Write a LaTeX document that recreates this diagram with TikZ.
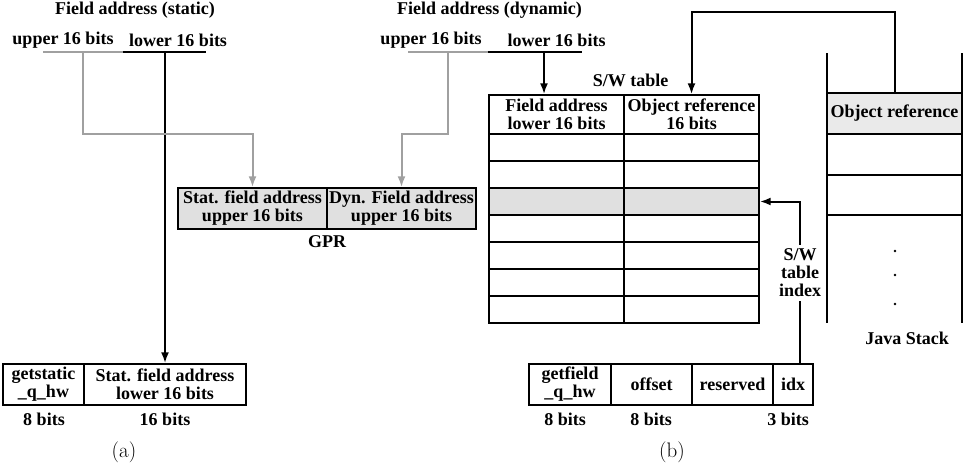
\documentclass[tikz,border=0pt]{standalone}
\usepackage{fontspec}
\newfontfamily\timesfont{Liberation Serif}
\usetikzlibrary{arrows.meta, positioning}

\definecolor{cellgray}{RGB}{224,224,224}
\definecolor{stackgray}{RGB}{234,234,234}
\definecolor{wiregray}{RGB}{160,160,160}

\begin{document}
\begin{tikzpicture}[
            x=1pt, y=-1pt,
            lbl/.style={
                    font=\timesfont\bfseries\fontsize{18}{18}\selectfont,
                    align=center,
                    inner sep=0pt
                },
            cell/.style={
                    rectangle,
                    draw=black,
                    line width=1.4pt,
                    fill=white,
                    lbl,
                    minimum height=41pt
                },
            bus/.style={
                    draw,
                    line width=2pt
                },
            line/.style={
                    draw,
                    line width=2pt,
                    ->,
                    >={Latex[length=11pt,width=8pt]}
                },
            gline/.style={
                    line,
                    draw=wiregray
                },
            caption/.style={
                    font=\fontsize{21}{24}\selectfont
                }
        ]
        \useasboundingbox (0,0) rectangle (965,469);

        % (a) static field
        \node [lbl] (titleS) at (135,10) {Field address (static)};
        \node [lbl] (upS) at (63,40) {upper 16 bits};
        \node [lbl] (loS) at (178,40) {lower 16 bits};
        \coordinate (sA) at (43,52);
        \coordinate (sB) at (123,52);
        \coordinate (sC) at (206,52);
        \coordinate (sUp) at (83,52);
        \coordinate (sLo) at (165,52);
        \draw [bus, wiregray] (sA) -- (sB);
        \draw [bus] (sB) -- (sC);

        \node [cell, minimum width=81pt] (opS) at (43.5,384.5) {getstatic\\\_q\_hw};
        \node [cell, minimum width=162pt] (addrS) at (165,384.5) {Stat. field address\\lower 16 bits};
        \node [lbl] (bitsS1) at (44,419) {8 bits};
        \node [lbl] (bitsS2) at (165,419) {16 bits};
        \node [caption] (capA) at (124,452) {(a)};

        % GPR
        \node [cell, fill=cellgray, minimum width=149pt] (gprS) at (252.5,208.5) {Stat. field address\\upper 16 bits};
        \node [cell, fill=cellgray, minimum width=149pt] (gprD) at (401.5,208.5) {Dyn. Field address\\upper 16 bits};
        \node [lbl] (gprLbl) at (327,242) {GPR};

        % (b) dynamic field
        \node [lbl] (titleD) at (489.5,10) {Field address (dynamic)};
        \node [lbl] (upD) at (431,40) {upper 16 bits};
        \node [lbl] (loD) at (556.5,40) {lower 16 bits};
        \coordinate (dA) at (408,52);
        \coordinate (dB) at (488,52);
        \coordinate (dC) at (582,52);
        \coordinate (dUp) at (448,52);
        \coordinate (dLo) at (544,52);
        \draw [bus, wiregray] (dA) -- (dB);
        \draw [bus] (dB) -- (dC);

        % S/W table
        \node [lbl] (swLbl) at (630.5,80) {S/W table};
        \node [cell, minimum width=135pt, minimum height=39pt] (hdrA) at (556.5,114.5) {Field address\\lower 16 bits};
        \node [cell, minimum width=135pt, minimum height=39pt] (hdrB) at (691.5,114.5) {Object reference\\16 bits};
        \foreach \i/\shade in {1/white,2/white,3/cellgray,4/white,5/white,6/white,7/white} {
            \node [cell, fill=\shade, minimum width=135pt, minimum height=27pt] (ta\i) at (556.5,120.5+27*\i) {};
            \node [cell, fill=\shade, minimum width=135pt, minimum height=27pt] (tb\i) at (691.5,120.5+27*\i) {};
        }

        % Java stack
        \draw [line width=1.4pt] (827,53) -- (827,323);
        \draw [line width=1.4pt] (962,53) -- (962,323);
        \node [cell, fill=stackgray, minimum width=135pt] (jRef) at (894.5,113.5) {Object reference};
        \node [cell, minimum width=135pt] (j2) at (894.5,154.5) {};
        \node [cell, minimum width=135pt, minimum height=40pt] (j3) at (894.5,195) {};
        \foreach \y in {251,275,304}
            \fill (895,\y) circle (1.4pt);
        \node [lbl] (jLbl) at (907,338) {Java Stack};

        % getfield instruction
        \node [cell, minimum width=82pt] (opD) at (570,384.5) {getfield\\\_q\_hw};
        \node [cell, minimum width=81pt] (offD) at (651.5,384.5) {offset};
        \node [cell, minimum width=81pt] (resD) at (732.5,384.5) {reserved};
        \node [cell, minimum width=40pt] (idx) at (793,384.5) {idx};
        \node [lbl] (bitsD1) at (565,419) {8 bits};
        \node [lbl] (bitsD2) at (651,419) {8 bits};
        \node [lbl] (bitsD3) at (788,419) {3 bits};
        \node [caption] (capB) at (672,452) {(b)};
        \node [lbl, inner sep=4pt] (swIdx) at (800,273) {S/W\\table\\index};

        % Arrows
        \path [line] (sLo) -- (addrS.north);
        \path [gline] (sUp) -- ++(0,82) -| (gprS.north);
        \path [gline] (dUp) -- ++(0,82) -| (gprD.north);
        \path [line] (dLo) -- (dLo |- hdrA.north);
        \path [line] (jRef.north) -- ++(0,-80) -| (hdrB.north);
        \path [bus] (idx.north -| swIdx.south) -- (swIdx.south);
        \path [line] (swIdx.north) |- (tb3.east);
    \end{tikzpicture}
\end{document}
